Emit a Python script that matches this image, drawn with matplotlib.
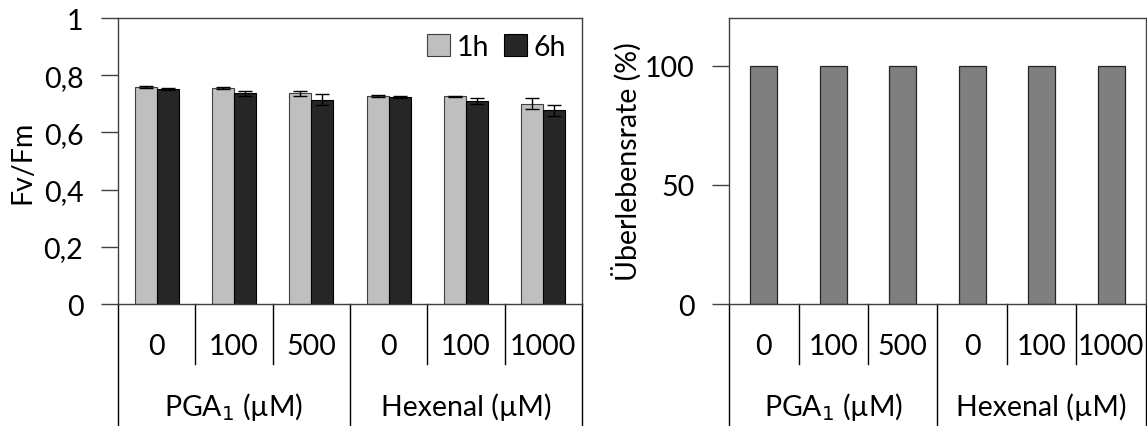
import matplotlib
matplotlib.use("Agg")
import matplotlib.pyplot as plt
import numpy as np

plt.rcParams['font.family'] = ['Lato', 'DejaVu Sans']

# data
concs = ['0', '100', '500', '0', '100', '1000']
groups = ['PGA$_1$ (µM)', 'Hexenal (µM)']
fvfm_1h = [0.760, 0.756, 0.737, 0.727, 0.727, 0.700]
fvfm_1h_err = [0.003, 0.003, 0.009, 0.004, 0.002, 0.019]
fvfm_6h = [0.752, 0.737, 0.715, 0.723, 0.709, 0.678]
fvfm_6h_err = [0.003, 0.009, 0.018, 0.004, 0.011, 0.019]
survival = [100, 100, 100, 100, 100, 100]

fig = plt.figure(figsize=(11.47, 4.27), dpi=100)
axL = fig.add_axes([0.1029, 0.2857, 0.5074 - 0.1029, 0.9555 - 0.2857])
axR = fig.add_axes([0.6356, 0.2857, 0.9990 - 0.6356, 0.9555 - 0.2857])

x = np.arange(len(concs))
fs = 20.5
ekw = dict(ecolor='black', elinewidth=1, capsize=5, capthick=1)

w = 0.284
axL.bar(x - w / 2, fvfm_1h, w, yerr=fvfm_1h_err, color='#bfbfbf',
        edgecolor='#404040', linewidth=0.8, error_kw=ekw, label='1h')
axL.bar(x + w / 2, fvfm_6h, w, yerr=fvfm_6h_err, color='#262626',
        edgecolor='#000000', linewidth=0.8, error_kw=ekw, label='6h')
axL.set_ylim(0, 1)
axL.set_yticks([0, 0.2, 0.4, 0.6, 0.8, 1])
axL.set_yticklabels(['0', '0,2', '0,4', '0,6', '0,8', '1'])
axL.set_ylabel('Fv/Fm', fontsize=fs, labelpad=6)
axL.legend(loc='upper right', frameon=False, fontsize=fs, ncol=2,
           handlelength=0.8, handleheight=0.8, handletextpad=0.25,
           columnspacing=0.5, borderaxespad=0.15)

axR.bar(x, survival, 0.39, color='#7f7f7f', edgecolor='#262626', linewidth=0.9)
axR.set_ylim(0, 120)
axR.set_yticks([0, 50, 100])
axR.set_ylabel('Überlebensrate (%)', fontsize=fs, labelpad=2)

for ax in (axL, axR):
    ax.set_xlim(-0.5, len(concs) - 0.5)
    ax.set_xticks([])
    ax.tick_params(axis='y', labelsize=fs, length=12, width=1, pad=13,
                   color='#404040')
    for s in ax.spines.values():
        s.set_linewidth(1)
        s.set_color('#404040')
    tr = ax.get_xaxis_transform()
    # category separators
    for b in [0.5, 1.5, 3.5, 4.5]:
        ax.plot([b, b], [0, -0.21], transform=tr, color='black', lw=1,
                clip_on=False)
    for b in [-0.5, 2.5, 5.5]:
        ax.plot([b, b], [0, -0.43], transform=tr, color='black', lw=1,
                clip_on=False)
    for xi, c in zip(x, concs):
        ax.text(xi, -0.147, c, transform=tr, ha='center', va='center',
                fontsize=fs)
    for gi, g in enumerate(groups):
        ax.text(1 + 3 * gi, -0.357, g, transform=tr, ha='center',
                va='center', fontsize=fs)

fig.savefig('out.png', dpi=100)
